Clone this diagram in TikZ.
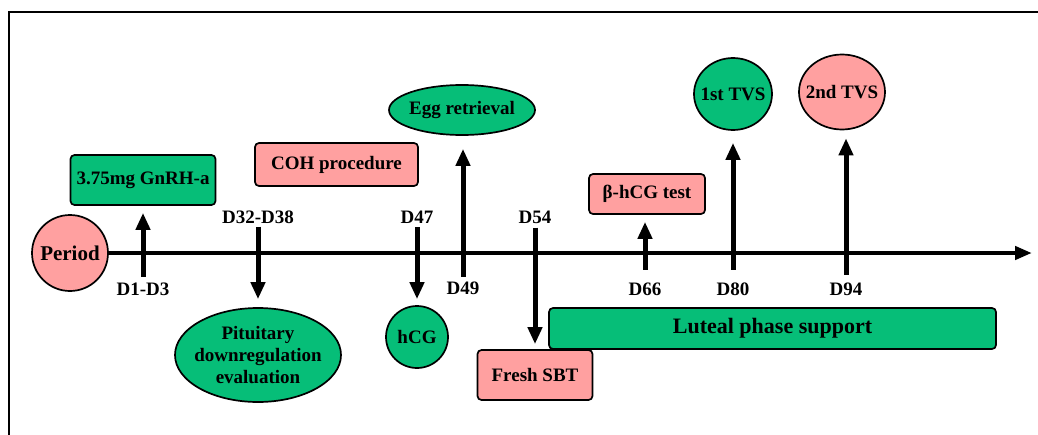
\documentclass[tikz,border=0pt]{standalone}
\usepackage{fontspec}
\setmainfont{Liberation Serif}
\usepackage{tikz}
\usetikzlibrary{arrows.meta}
\usetikzlibrary{shapes.geometric}
\definecolor{evgreen}{RGB}{6,190,120}
\definecolor{evpink}{RGB}{255,160,160}
\tikzset{
  frameline/.style={draw=black,line width=1.7pt},
  timeline/.style={draw=black,line width=4.5pt,-{Triangle[length=17pt,width=13pt]}},
  evarrow/.style={draw=black,line width=5pt,-{Triangle[length=17pt,width=14pt]}},
  evfont/.style={font=\fontsize{19}{22}\selectfont\bfseries},
  daylabel/.style={evfont,inner sep=2pt},
  greenbox/.style={evfont,draw=black,line width=1.7pt,fill=evgreen,rounded corners=4pt,inner sep=0pt},
  pinkbox/.style={evfont,draw=black,line width=1.7pt,fill=evpink,rounded corners=4pt,inner sep=0pt},
  greenoval/.style={evfont,ellipse,draw=black,line width=1.7pt,fill=evgreen,inner xsep=-6pt,inner ysep=0pt,align=center},
  pinkoval/.style={evfont,ellipse,draw=black,line width=1.7pt,fill=evpink,inner xsep=-6pt,inner ysep=0pt}
}

\begin{document}
\begin{tikzpicture}[x=1pt,y=-1pt]
  \clip (0,0) rectangle (1038,434);
  \draw (9,440) -- (9,12) -- (1045,12) [frameline];
  % time axis
  \node[pinkoval,minimum width=76pt,minimum height=76pt,font=\fontsize{21}{24}\selectfont\bfseries] (period) at (70,253) {Period};
  \coordinate (TLEND) at (1032,253);
  \draw (period.east) -- (TLEND) [timeline];
  % events above and below the axis
  \node[greenbox,minimum width=145pt,minimum height=50pt] (gnrh) at (143,180) {3.75mg GnRH-a};
  \node[pinkbox,minimum width=163pt,minimum height=43pt] (coh) at (336.5,164.5) {COH procedure};
  \node[greenoval,minimum width=146pt,minimum height=50pt] (egg) at (462,110) {Egg retrieval};
  \node[pinkbox,minimum width=116pt,minimum height=40pt] (bhcg) at (647,194) {β-hCG test};
  \node[greenoval,minimum width=78pt,minimum height=72pt] (tvsa) at (733,94) {1st TVS};
  \node[pinkoval,minimum width=86pt,minimum height=75pt] (tvsb) at (842,92) {2nd TVS};
  \node[greenoval,minimum width=166pt,minimum height=94pt] (pit) at (258,355) {Pituitary\\downregulation\\evaluation};
  \node[greenoval,minimum width=62pt,minimum height=62pt] (hcg) at (417,337) {hCG};
  \node[pinkbox,minimum width=115pt,minimum height=50pt] (sbt) at (535,375) {Fresh SBT};
  \node[greenbox,minimum width=447pt,minimum height=41pt,font=\fontsize{22}{24}\selectfont\bfseries] (luteal) at (772.5,328.5) {Luteal phase support};
  % day labels
  \node[daylabel] (dA) at (143,289) {D1-D3};
  \node[daylabel] (dB) at (258,217) {D32-D38};
  \node[daylabel] (dC) at (417,217) {D47};
  \node[daylabel] (dD) at (463,288) {D49};
  \node[daylabel] (dE) at (535,217) {D54};
  \node[daylabel] (dF) at (645,289) {D66};
  \node[daylabel] (dG) at (733,289) {D80};
  \node[daylabel] (dH) at (846,289) {D94};
  % arrows
  \draw (dA.north) -- (dA.north |- gnrh.south) [evarrow,shorten <=3.5pt,shorten >=7pt];
  \draw (dB.south) -- (dB.south |- pit.north) [evarrow,shorten <=1pt,shorten >=8pt];
  \draw (dC.south) -- (dC.south |- hcg.north) [evarrow,shorten <=2pt,shorten >=6pt];
  \draw (dD.north) -- (dD.north |- egg.south) [evarrow,shorten <=2.5pt,shorten >=13pt];
  \draw (dE.south) -- (dE.south |- sbt.north) [evarrow,shorten <=2pt,shorten >=5pt];
  \draw (dF.north) -- (dF.north |- bhcg.south) [evarrow,shorten <=10.5pt,shorten >=7pt];
  \draw (dG.north) -- (dG.north |- tvsa.south) [evarrow,shorten <=10.5pt,shorten >=12pt];
  \draw (dH.north) -- (dH.north |- tvsb.south) [evarrow,shorten <=5.5pt,shorten >=8pt];
\end{tikzpicture}
\end{document}
